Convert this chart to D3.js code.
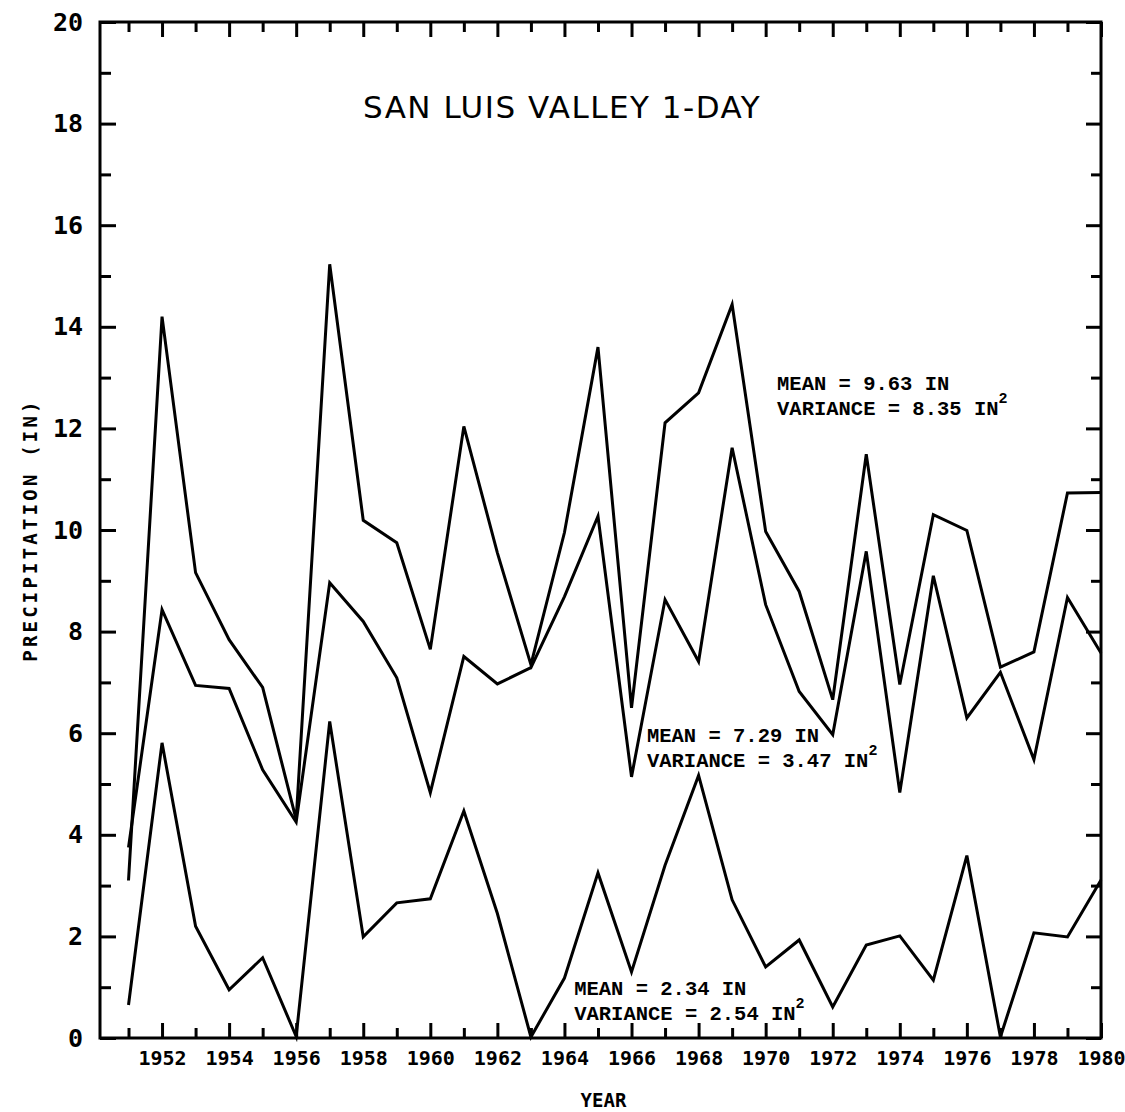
<!DOCTYPE html>
<html>
<head>
<meta charset="utf-8">
<script src="https://cdn.jsdelivr.net/npm/d3@7"></script>
<style>
  body { margin: 0; background: #fff; }
  svg { display: block; background: #fff; }
  .tick line { stroke: #000; stroke-width: 3; }
  .tick text { font-family: "DejaVu Sans Mono", monospace; font-weight: bold; fill: #000; }
  .note { font-family: "Liberation Mono", monospace; font-weight: bold; font-size: 20.5px; fill: #000; }
</style>
</head>
<body>
<div id="chart"></div>
<script>
// years on the x axis
const years = [1951, 1952, 1953, 1954, 1955, 1956, 1957, 1958, 1959, 1960,
  1961, 1962, 1963, 1964, 1965, 1966, 1967, 1968, 1969, 1970,
  1971, 1972, 1973, 1974, 1975, 1976, 1977, 1978, 1979, 1980];

// mean 9.63 in
const upperSeries = [3.1, 14.2, 9.16, 7.84, 6.9, 4.3, 15.23, 10.19, 9.75, 7.65,
  12.04, 9.55, 7.35, 9.95, 13.6, 6.5, 12.11, 12.7, 14.44, 9.97,
  8.79, 6.66, 11.49, 6.96, 10.3, 9.99, 7.3, 7.6, 10.73, 10.74];

// mean 7.29 in
const middleSeries = [3.75, 8.43, 6.94, 6.88, 5.28, 4.25, 8.96, 8.2, 7.09, 4.83,
  7.51, 6.97, 7.29, 8.69, 10.27, 5.14, 8.63, 7.41, 11.62, 8.53,
  6.82, 5.97, 9.58, 4.83, 9.1, 6.3, 7.2, 5.48, 8.67, 7.58];

// mean 2.34 in
const lowerSeries = [0.65, 5.81, 2.2, 0.95, 1.58, 0.03, 6.23, 1.99, 2.66, 2.74,
  4.47, 2.45, 0.02, 1.18, 3.25, 1.3, 3.4, 5.17, 2.72, 1.4,
  1.93, 0.61, 1.83, 2.01, 1.14, 3.59, 0.02, 2.07, 1.99, 3.11];

const yearLabels = [1952, 1954, 1956, 1958, 1960, 1962, 1964, 1966, 1968, 1970, 1972, 1974, 1976, 1978, 1980];
const yMajor = [0, 2, 4, 6, 8, 10, 12, 14, 16, 18, 20];
const yMinor = [1, 3, 5, 7, 9, 11, 13, 15, 17, 19];

const notes = [
  { year: 1970.34, value: 12.76, mean: "9.63", variance: "8.35" },
  { year: 1966.46, value: 5.83, mean: "7.29", variance: "3.47" },
  { year: 1964.29, value: 0.85, mean: "2.34", variance: "2.54" }
];

const width = 1125;
const height = 1112;
const margin = { top: 22, right: 24, bottom: 74, left: 100 };

const svg = d3.select("#chart")
  .append("svg")
  .attr("width", width)
  .attr("height", height);

const x = d3.scaleLinear()
  .domain([1950.15, 1980])
  .range([margin.left, width - margin.right]);
const y = d3.scaleLinear()
  .domain([0, 20])
  .range([height - margin.bottom, margin.top]);

const minorYears = years.filter(d => !yearLabels.includes(d));

function noDomain(g) {
  g.select(".domain").remove();
}

// bottom axis: ticks point up into the plot
svg.append("g")
  .attr("transform", `translate(0,${y(0)})`)
  .call(d3.axisBottom(x).tickValues(minorYears).tickSize(-10).tickFormat(""))
  .call(noDomain);
svg.append("g")
  .attr("transform", `translate(0,${y(0)})`)
  .call(d3.axisBottom(x).tickValues(yearLabels).tickSize(-15).tickPadding(13).tickFormat(d3.format("d")))
  .call(noDomain)
  .selectAll("text").style("font-size", "20px");

// top axis
svg.append("g")
  .attr("transform", `translate(0,${y(20)})`)
  .call(d3.axisTop(x).tickValues(minorYears).tickSize(-10).tickFormat(""))
  .call(noDomain);
svg.append("g")
  .attr("transform", `translate(0,${y(20)})`)
  .call(d3.axisTop(x).tickValues(yearLabels).tickSize(-15).tickFormat(""))
  .call(noDomain);

// left axis
svg.append("g")
  .attr("transform", `translate(${x(1950.15)},0)`)
  .call(d3.axisLeft(y).tickValues(yMinor).tickSize(-11).tickFormat(""))
  .call(noDomain);
svg.append("g")
  .attr("transform", `translate(${x(1950.15)},0)`)
  .call(d3.axisLeft(y).tickValues(yMajor).tickSize(-16).tickPadding(17).tickFormat(d3.format("d")))
  .call(noDomain)
  .selectAll("text").style("font-size", "25px");

// right axis
svg.append("g")
  .attr("transform", `translate(${x(1980)},0)`)
  .call(d3.axisRight(y).tickValues(yMinor).tickSize(-10).tickFormat(""))
  .call(noDomain);
svg.append("g")
  .attr("transform", `translate(${x(1980)},0)`)
  .call(d3.axisRight(y).tickValues(yMajor).tickSize(-15).tickFormat(""))
  .call(noDomain);

// frame
svg.append("rect")
  .attr("x", x(1950.15))
  .attr("y", y(20))
  .attr("width", x(1980) - x(1950.15))
  .attr("height", y(0) - y(20))
  .attr("fill", "none")
  .attr("stroke", "#000")
  .attr("stroke-width", 3);

// the three series
const line = d3.line()
  .x((d, i) => x(years[i]))
  .y(d => y(d));

svg.append("g")
  .selectAll("path")
  .data([upperSeries, middleSeries, lowerSeries])
  .join("path")
  .attr("d", line)
  .attr("fill", "none")
  .attr("stroke", "#000")
  .attr("stroke-width", 3)
  .attr("stroke-linejoin", "miter");

// mean / variance notes
notes.forEach(n => {
  const g = svg.append("g").attr("class", "note");
  g.append("text")
    .attr("x", x(n.year))
    .attr("y", y(n.value))
    .text(`MEAN = ${n.mean} IN`);
  const t = g.append("text")
    .attr("x", x(n.year))
    .attr("y", y(n.value) + 25)
    .text(`VARIANCE = ${n.variance} IN`);
  t.append("tspan")
    .attr("dy", -12)
    .style("font-size", "15px")
    .text("2");
});

// title
svg.append("text")
  .attr("x", x(1963.93))
  .attr("y", y(18.11))
  .attr("text-anchor", "middle")
  .style("font-family", "DejaVu Sans, sans-serif")
  .style("font-size", "31px")
  .style("letter-spacing", "1.5px")
  .text("SAN LUIS VALLEY 1-DAY");

// axis titles
svg.append("text")
  .attr("transform", `translate(30,${(y(0) + y(20)) / 2}) rotate(-90)`)
  .attr("text-anchor", "middle")
  .attr("dominant-baseline", "central")
  .style("font-family", "DejaVu Sans Mono, monospace")
  .style("font-weight", "bold")
  .style("font-size", "19px")
  .style("letter-spacing", "3.2px")
  .text("PRECIPITATION  (IN)");

svg.append("text")
  .attr("x", (x(1950.15) + x(1980)) / 2 + 3)
  .attr("y", 1107)
  .attr("text-anchor", "middle")
  .style("font-family", "DejaVu Sans Mono, monospace")
  .style("font-weight", "bold")
  .style("font-size", "19px")
  .text("YEAR");
</script>
</body>
</html>
